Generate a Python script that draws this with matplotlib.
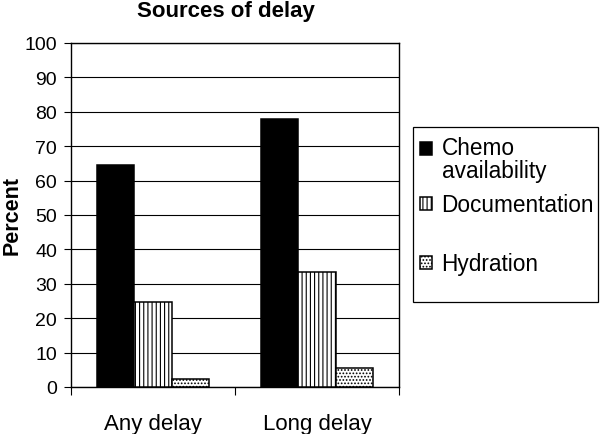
import matplotlib
matplotlib.use("Agg")
import matplotlib.pyplot as plt
import matplotlib.patches as mpatches
from matplotlib.legend_handler import HandlerPatch
import numpy as np

plt.rcParams['font.family'] = ['Liberation Sans', 'DejaVu Sans']
plt.rcParams['hatch.linewidth'] = 0.8

categories = ["Any delay", "Long delay"]
series = ["Chemo\navailability", "Documentation", "Hydration"]
chemo = [64.5, 77.9]
documentation = [24.7, 33.4]
hydration = [2.3, 5.5]
values = [chemo, documentation, hydration]
faces = ["black", "white", "white"]
hatches = [None, "||||", "....."]


def top_square(legend, orig_handle, xdescent, ydescent, width, height, fontsize):
    # put the key next to the first line of a two-line label
    return mpatches.Rectangle((-xdescent, -ydescent + 0.52 * fontsize), width, height)


fig = plt.figure(figsize=(6, 4.35), dpi=100)
ax = fig.add_axes([71/600, 47/435, 328/600, 344/435])

x = np.arange(len(categories))
w = 0.228
handles = []
for i, (vals, fc, h) in enumerate(zip(values, faces, hatches)):
    b = ax.bar(x + (i - 1) * w, vals, width=w, color=fc, edgecolor="black",
               hatch=h, linewidth=1.1, label=series[i], zorder=3)
    handles.append(b.patches[0])

ax.set_xlim(-0.5, 1.5)
ax.set_ylim(0, 100)
ax.set_yticks(np.arange(0, 101, 10))
ax.yaxis.grid(True, color="black", linewidth=0.8, zorder=0)
ax.tick_params(axis="y", labelsize=14, length=5, pad=5, direction="out")

ax.set_xticks([-0.5, 0.5, 1.5])
ax.set_xticklabels([])
ax.set_xticks(x, minor=True)
ax.set_xticklabels(categories, minor=True)
ax.tick_params(axis="x", which="major", length=6, direction="out")
ax.tick_params(axis="x", which="minor", length=0, labelsize=16, pad=19)

for s in ax.spines.values():
    s.set_linewidth(1)
    s.set_color("black")

ax.set_ylabel("Percent", fontsize=15.5, fontweight="bold")
ax.yaxis.set_label_coords(-0.146, 0.5)

fig.text(226/600, 1 - 12/435, "Sources of delay", fontsize=16,
         fontweight="bold", ha="center", va="center")

# legend frame, then the entries in two groups (Excel spacing is uneven)
frame = mpatches.Rectangle((413/600, 1 - 303/435), 185/600, 175/435,
                           transform=fig.transFigure, fill=False,
                           edgecolor="black", linewidth=0.9)
fig.add_artist(frame)

common = dict(fontsize=16.3, frameon=False, handlelength=0.53,
              handleheight=0.53, handletextpad=0.42, borderpad=0,
              borderaxespad=0, bbox_transform=fig.transFigure)
leg1 = ax.legend(handles[:2], series[:2], loc="upper left",
                 bbox_to_anchor=(420/600, 1 - 137/435), labelspacing=0.5,
                 handler_map={handles[0]: HandlerPatch(patch_func=top_square)},
                 **common)
leg1.get_texts()[0].set_linespacing(1.0)
ax.add_artist(leg1)
leg2 = ax.legend(handles[2:], series[2:], loc="center left",
                 bbox_to_anchor=(420/600, 1 - 265/435), **common)

fig.savefig("out.png", dpi=100)
